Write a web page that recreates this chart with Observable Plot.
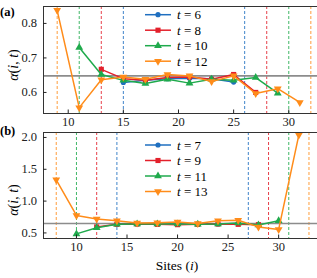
<!DOCTYPE html>
<html><head><meta charset="utf-8">
<script src="https://cdn.jsdelivr.net/npm/d3@7"></script>
<script src="https://cdn.jsdelivr.net/npm/@observablehq/plot@0.6"></script>
<style>
body{margin:0;background:#fff;}
#wrap{position:relative;width:317px;height:278px;overflow:hidden;font-family:"Liberation Serif","DejaVu Serif",serif;}
#wrap svg{position:absolute;left:0;}
</style></head>
<body><div id="wrap"></div>
<script>
// ---- Panel (a) data ----
const labelsA = ["t = 6", "t = 8", "t = 10", "t = 12"];
const sitesA6 = [15, 17, 19, 21, 23, 25];
const alphaA6 = [0.629, 0.635, 0.640, 0.641, 0.640, 0.630];
const sitesA8 = [13, 15, 17, 19, 21, 23, 25, 27];
const alphaA8 = [0.667, 0.640, 0.635, 0.643, 0.645, 0.638, 0.652, 0.600];
const sitesA10 = [11, 13, 15, 17, 19, 21, 23, 25, 27, 29];
const alphaA10 = [0.730, 0.652, 0.635, 0.626, 0.638, 0.627, 0.638, 0.635, 0.643, 0.598];
const sitesA12 = [9, 11, 13, 15, 17, 19, 21, 23, 25, 27, 29, 31];
const alphaA12 = [0.838, 0.556, 0.637, 0.645, 0.638, 0.652, 0.648, 0.632, 0.648, 0.597, 0.611, 0.571];
const boundsA = [[15, 26], [13, 28], [11, 30], [9, 32]];
const ticksYA = [0.6, 0.7, 0.8];

// ---- Panel (b) data ----
const labelsB = ["t = 7", "t = 9", "t = 11", "t = 13"];
const sitesB7 = [14, 16, 18, 20, 22, 24, 26];
const alphaB7 = [0.640, 0.640, 0.640, 0.640, 0.640, 0.640, 0.650];
const sitesB9 = [12, 14, 16, 18, 20, 22, 24, 26, 28];
const alphaB9 = [0.594, 0.635, 0.640, 0.635, 0.630, 0.635, 0.640, 0.635, 0.630];
const sitesB11 = [10, 12, 14, 16, 18, 20, 22, 24, 26, 28, 30];
const alphaB11 = [0.485, 0.580, 0.635, 0.640, 0.640, 0.640, 0.635, 0.640, 0.655, 0.625, 0.690];
const sitesB13 = [8, 10, 12, 14, 16, 18, 20, 22, 24, 26, 28, 30, 32];
const alphaB13 = [1.335, 0.775, 0.720, 0.690, 0.655, 0.660, 0.670, 0.650, 0.690, 0.700, 0.595, 0.555, 2.040];
const boundsB = [[14, 27], [12, 29], [10, 31], [8, 33]];
const ticksYB = [0.5, 1.0, 1.5, 2.0];

const ticksX = [10, 15, 20, 25, 30];
const refAlpha = 0.648;

const colors = ["#1f6fc0", "#e3202b", "#1faa4c", "#ff8c1a"];
const symbols = ["circle", "square", "triangle", "triangle"];
const rotates = [0, 0, 0, 180];

function rows(sitesList, alphaList) {
  const out = [];
  sitesList.forEach((s, k) => s.forEach((x, j) => out.push({k, x, y: alphaList[k][j]})));
  return out;
}

function panel(data, bounds, xdom, ydom, yticks, yfmt, height, mt, mb) {
  const marks = [];
  bounds.forEach((b, k) => {
    marks.push(Plot.ruleX(b, {x: d => d, stroke: colors[k], strokeWidth: 1, strokeDasharray: "3,2", strokeOpacity: 0.85}));
  });
  marks.push(Plot.ruleY([refAlpha], {stroke: "#8c8c8c", strokeWidth: 1.6}));
  for (let k = 0; k < 4; k++) {
    const d = data.filter(r => r.k === k);
    marks.push(Plot.line(d, {x: "x", y: "y", stroke: colors[k], strokeWidth: 1.5}));
    marks.push(Plot.dot(d, {x: "x", y: "y", fill: colors[k], stroke: "none", symbol: symbols[k], rotate: rotates[k], r: k === 0 ? 2.6 : 2.9}));
  }
  marks.push(Plot.frame({stroke: "#333", strokeWidth: 1}));
  marks.push(Plot.axisX({ticks: ticksX, tickSize: -3.5, tickPadding: 7, tickFormat: d => String(d), fontSize: 12.5}));
  marks.push(Plot.axisY({ticks: yticks, tickSize: -3.5, tickPadding: 10, tickFormat: yfmt, fontSize: 12.5}));
  return Plot.plot({
    width: 317, height, marginTop: mt, marginBottom: mb, marginLeft: 43, marginRight: 0,
    style: {fontFamily: "Liberation Serif, DejaVu Serif, serif", fontSize: "12.5px", color: "#222", background: "transparent"},
    x: {domain: xdom, range: [43, 311], label: null},
    y: {domain: ydom, label: null},
    marks
  });
}

const wrap = document.getElementById("wrap");
const dataA = rows([sitesA6, sitesA8, sitesA10, sitesA12], [alphaA6, alphaA8, alphaA10, alphaA12]);
const dataB = rows([sitesB7, sitesB9, sitesB11, sitesB13], [alphaB7, alphaB9, alphaB11, alphaB13]);

const pa = panel(dataA, boundsA, [7.76, 32.06], [0.539, 0.849], ticksYA, d => d.toFixed(1), 128, 6, 15);
pa.style.top = "0px";
wrap.appendChild(pa);
const pb = panel(dataB, boundsB, [6.74, 33.25], [0.4125, 2.078], ticksYB, d => d.toFixed(1), 154, 8, 40);
pb.style.top = "124px";
wrap.appendChild(pb);

// overlay: panel labels, axis labels, legends
const ov = d3.select(wrap).append("svg").attr("width", 317).attr("height", 278).style("top", "0px")
  .attr("font-family", "Liberation Serif, DejaVu Serif, serif");
ov.append("text").attr("x", 0).attr("y", 15.5).attr("font-weight", "bold").attr("font-size", 12.5).text("(a)");
ov.append("text").attr("x", 0).attr("y", 135).attr("font-weight", "bold").attr("font-size", 12.5).text("(b)");

function ylab(cy) {
  const t = ov.append("text").attr("transform", `translate(18,${cy}) rotate(-90)`).attr("text-anchor", "middle").attr("font-size", 14);
  t.append("tspan").attr("font-style", "italic").text("α");
  t.append("tspan").text("(");
  t.append("tspan").attr("font-style", "italic").text("i");
  t.append("tspan").text(", ");
  t.append("tspan").attr("font-style", "italic").text("t");
  t.append("tspan").text(")");
}
ylab(65);
ylab(200);

const xl = ov.append("text").attr("x", 177).attr("y", 270).attr("text-anchor", "middle").attr("font-size", 13.5);
xl.append("tspan").text("Sites (");
xl.append("tspan").attr("font-style", "italic").text("i");
xl.append("tspan").text(")");

const symPath = [d3.symbolCircle, d3.symbolSquare, d3.symbolTriangle, d3.symbolTriangle];
function legend(labels, y0) {
  labels.forEach((lab, k) => {
    const y = y0 + k * 15.5;
    ov.append("line").attr("x1", 145).attr("x2", 171).attr("y1", y).attr("y2", y).attr("stroke", colors[k]).attr("stroke-width", 1.5);
    const r = k === 0 ? 2.6 : 2.9;
    ov.append("path").attr("d", d3.symbol(symPath[k], Math.PI * r * r)()).attr("fill", colors[k])
      .attr("transform", `translate(158,${y}) rotate(${rotates[k]})`);
    const parts = lab.split(" = ");
    const t = ov.append("text").attr("x", 177).attr("y", y + 4.5).attr("font-size", 13);
    t.append("tspan").attr("font-style", "italic").text(parts[0]);
    t.append("tspan").text(" = " + parts[1]);
  });
}
legend(labelsA, 14.7);
legend(labelsB, 145);
</script></body></html>
